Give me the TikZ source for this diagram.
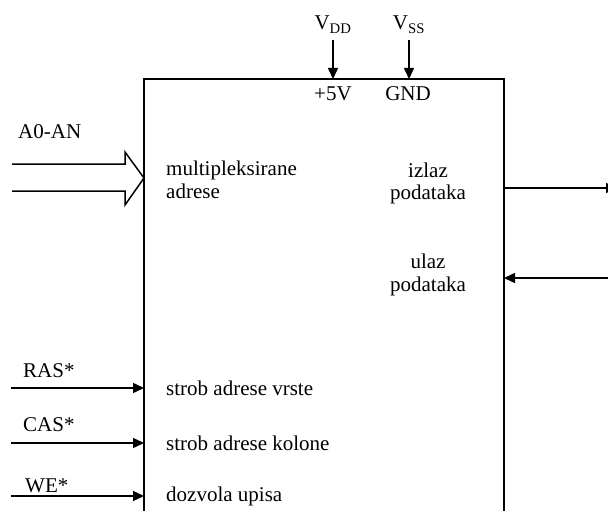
\documentclass[tikz,border=0pt]{standalone}
\usepackage{fontspec}
\setmainfont{Liberation Serif}
\usetikzlibrary{arrows.meta}
\begin{document}
\begin{tikzpicture}[x=1pt,y=-1pt,
  lbl/.style={inner sep=0pt, font=\fontsize{21}{24}\selectfont},
  sig/.style={line width=1.5pt, -{Triangle[length=11pt,width=10pt]}},
  boxline/.style={line width=2pt},
  ]
\useasboundingbox (0,0) rectangle (608,511);
\clip (0,0) rectangle (608,511);

% coordinates
\coordinate (vdd-s) at (333,40);  \coordinate (vdd-e) at (333,79);
\coordinate (vss-s) at (409,40);  \coordinate (vss-e) at (409,79);
\coordinate (out-s) at (504,188); \coordinate (out-e) at (617,188);
\coordinate (in-s)  at (608,278); \coordinate (in-e)  at (504,278);
\coordinate (ras-s) at (11,388);  \coordinate (ras-e) at (144,388);
\coordinate (cas-s) at (11,443);  \coordinate (cas-e) at (144,443);
\coordinate (we-s)  at (11,496);  \coordinate (we-e)  at (144,496);

% hollow bus arrow
\draw[line width=1.5pt, line join=miter] (12,164) -- (125,164) -- (125,152) -- (144,178) -- (125,205) -- (125,191) -- (12,191);

% signal arrows
\draw[sig] (vdd-s) -- (vdd-e);
\draw[sig] (vss-s) -- (vss-e);
\draw[sig] (out-s) -- (out-e);
\draw[sig] (in-s) -- (in-e);
\draw[sig] (ras-s) -- (ras-e);
\draw[sig] (cas-s) -- (cas-e);
\draw[sig] (we-s) -- (we-e);

% chip box (open at bottom)
\draw[boxline] (144,515) -- (144,79) -- (504,79) -- (504,515);

% labels
\node[lbl, anchor=base] (vdd) at (333,30) {V\textsubscript{DD}};
\node[lbl, anchor=base] (vss) at (409,30) {V\textsubscript{SS}};
\node[lbl, anchor=base] (p5v) at (333,100) {+5V};
\node[lbl, anchor=base] (gnd) at (408,100) {GND};
\node[lbl, anchor=base west] (a0an) at (18,139) {A0-AN};
\node[lbl, anchor=base west] (multi1) at (166,175) {multipleksirane};
\node[lbl, anchor=base west] (multi2) at (166,198) {adrese};
\node[lbl, anchor=base] (izlaz1) at (428,177) {izlaz};
\node[lbl, anchor=base] (izlaz2) at (428,199) {podataka};
\node[lbl, anchor=base] (ulaz1) at (428,268) {ulaz};
\node[lbl, anchor=base] (ulaz2) at (428,291) {podataka};
\node[lbl, anchor=base west] (ras) at (23,377) {RAS*};
\node[lbl, anchor=base west] (cas) at (23,431) {CAS*};
\node[lbl, anchor=base west] (we) at (25,492) {WE*};
\node[lbl, anchor=base west] (rasl) at (166,395) {strob adrese vrste};
\node[lbl, anchor=base west] (casl) at (166,450) {strob adrese kolone};
\node[lbl, anchor=base west] (wel) at (166,501) {dozvola upisa};
\end{tikzpicture}
\end{document}
